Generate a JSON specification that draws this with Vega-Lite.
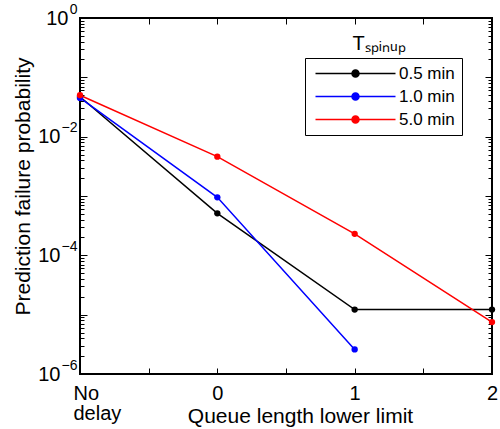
{
  "$schema": "https://vega.github.io/schema/vega-lite/v6.json",
  "autosize": {"type": "none"},
  "width": 412,
  "height": 356,
  "padding": {"left": 80, "top": 18, "right": 8, "bottom": 55},
  "background": "white",
  "title": {"text": "Tₛₚᵢₙᵤₚ", "orient": "top", "anchor": "end", "offset": -36, "dx": -92, "dy": 16, "fontSize": 20, "fontWeight": "normal", "font": "Liberation Sans", "color": "black"},
  "config": {
    "font": "Liberation Sans",
    "view": {"stroke": "black", "strokeWidth": 2},
    "axis": {"grid": false, "labelColor": "black", "titleColor": "black", "labelFontSize": 20, "titleFontSize": 21, "titleFontWeight": "normal", "labelFont": "Liberation Sans", "titleFont": "Liberation Sans"}
  },
  "data": {
    "values": [
      {"series": "0.5 min", "x": -1, "p": 0.047},
      {"series": "0.5 min", "x": 0, "p": 0.00051},
      {"series": "0.5 min", "x": 1, "p": 0.0000122},
      {"series": "0.5 min", "x": 2, "p": 0.0000122},
      {"series": "1.0 min", "x": -1, "p": 0.045},
      {"series": "1.0 min", "x": 0, "p": 0.00095},
      {"series": "1.0 min", "x": 1, "p": 0.0000026},
      {"series": "5.0 min", "x": -1, "p": 0.05},
      {"series": "5.0 min", "x": 0, "p": 0.0046},
      {"series": "5.0 min", "x": 1, "p": 0.00023},
      {"series": "5.0 min", "x": 2, "p": 0.0000075}
    ]
  },
  "layer": [
    {
      "mark": {"type": "line", "strokeWidth": 1.5, "point": {"filled": true, "size": 40}},
      "encoding": {
        "x": {
          "field": "x", "type": "quantitative",
          "scale": {"domain": [-1, 2], "nice": false, "zero": false},
          "axis": {
            "orient": "bottom",
            "title": "Queue length lower limit",
            "values": [-1, -0.5, 0, 0.5, 1, 1.5, 2],
            "ticks": true,
            "domain": false,
            "tickColor": "black",
            "tickWidth": 1,
            "tickSize": 6,
            "offset": -6,
            "labelPadding": 9,
            "labelExpr": "datum.value == -1 ? ['No', 'delay'] : (datum.value == round(datum.value) ? format(datum.value, 'd') : '')",
            "labelAlign": {"condition": {"test": "datum.value == -1", "value": "left"}, "value": "center"},
            "labelOffset": {"condition": {"test": "datum.value == -1", "value": -7}, "value": 0},
            "labelLineHeight": 20,
            "labelFlush": false,
            "labelOverlap": false,
            "titleX": 220,
            "titleY": 37,
            "titleBaseline": "top"
          }
        },
        "y": {
          "field": "p", "type": "quantitative",
          "scale": {"type": "log", "domain": [1e-6, 1], "nice": false},
          "axis": {
            "orient": "left",
            "title": "Prediction failure probability",
            "values": [1e-6, 1e-5, 1e-4, 1e-3, 1e-2, 1e-1, 1],
            "ticks": true,
            "domain": false,
            "tickColor": "black",
            "tickSize": 7,
            "offset": -7,
            "labelPadding": {"condition": {"test": "datum.value == 1", "value": 12}, "value": 20},
            "labelExpr": "datum.value == 1 || datum.value == 1e-2 || datum.value == 1e-4 || datum.value == 1e-6 ? '10' : ''",
            "labelOverlap": false,
            "labelFlush": false,
            "titleX": -54,
            "titleY": 168,
            "titleBaseline": "bottom"
          }
        },
        "color": {
          "field": "series", "type": "nominal",
          "scale": {"domain": ["0.5 min", "1.0 min", "5.0 min"], "range": ["#000000", "#0000ff", "#ff0000"]},
          "legend": {
            "title": null,
            "orient": "none",
            "legendX": 225,
            "legendY": 40,
            "strokeColor": "black",
            "fillColor": "white",
            "padding": 7,
            "labelFontSize": 17,
            "labelColor": "black",
            "symbolType": "M-8,0H8M-0.7,0A0.7,0.7,0,1,0,0.7,0A0.7,0.7,0,1,0,-0.7,0Z",
            "symbolSize": 100,
            "symbolStrokeWidth": 1.5,
            "symbolOffset": 35,
            "labelOffset": 35,
            "rowPadding": 5,
            "encode": {"symbols": {"update": {"fill": {"scale": "color", "field": "value"}, "fillOpacity": {"value": 1}}}}
          }
        }
      }
    },
    {
      "mark": {"type": "point", "opacity": 0},
      "encoding": {
        "x": {
          "field": "x", "type": "quantitative",
          "axis": {"orient": "top", "title": null, "labels": false, "domain": false, "ticks": true, "tickColor": "black", "values": [-1, -0.5, 0, 0.5, 1, 1.5, 2], "tickSize": 6, "offset": -6}
        },
        "y": {
          "field": "p", "type": "quantitative",
          "axis": {"orient": "right", "title": null, "labels": false, "domain": false, "ticks": true, "tickColor": "black", "values": [1e-6, 1e-5, 1e-4, 1e-3, 1e-2, 1e-1, 1], "tickSize": 7, "offset": -7}
        }
      }
    },
    {
      "mark": {"type": "point", "opacity": 0},
      "encoding": {
        "x": {"field": "x", "type": "quantitative", "axis": null},
        "y": {
          "field": "p", "type": "quantitative",
          "axis": {
            "orient": "left", "title": null, "labels": false, "domain": false, "ticks": true, "tickColor": "black", "tickSize": 4, "offset": -4,
            "values": [2e-6,3e-6,4e-6,5e-6,6e-6,7e-6,8e-6,9e-6,2e-5,3e-5,4e-5,5e-5,6e-5,7e-5,8e-5,9e-5,2e-4,3e-4,4e-4,5e-4,6e-4,7e-4,8e-4,9e-4,2e-3,3e-3,4e-3,5e-3,6e-3,7e-3,8e-3,9e-3,2e-2,3e-2,4e-2,5e-2,6e-2,7e-2,8e-2,9e-2,2e-1,3e-1,4e-1,5e-1,6e-1,7e-1,8e-1,9e-1]
          }
        }
      }
    },
    {
      "mark": {"type": "point", "opacity": 0},
      "encoding": {
        "x": {"field": "x", "type": "quantitative", "axis": null},
        "y": {
          "field": "p", "type": "quantitative",
          "axis": {
            "orient": "right", "title": null, "labels": false, "domain": false, "ticks": true, "tickColor": "black", "tickSize": 4, "offset": -4,
            "values": [2e-6,3e-6,4e-6,5e-6,6e-6,7e-6,8e-6,9e-6,2e-5,3e-5,4e-5,5e-5,6e-5,7e-5,8e-5,9e-5,2e-4,3e-4,4e-4,5e-4,6e-4,7e-4,8e-4,9e-4,2e-3,3e-3,4e-3,5e-3,6e-3,7e-3,8e-3,9e-3,2e-2,3e-2,4e-2,5e-2,6e-2,7e-2,8e-2,9e-2,2e-1,3e-1,4e-1,5e-1,6e-1,7e-1,8e-1,9e-1]
          }
        }
      }
    },
    {
      "mark": {"type": "point", "opacity": 0},
      "encoding": {
        "x": {"field": "x", "type": "quantitative", "axis": null},
        "y": {
          "field": "p", "type": "quantitative",
          "axis": {
            "orient": "left", "title": null, "ticks": false, "domain": false, "labelPadding": 3, "labelAlign": "right",
            "labelFontSize": 14, "labelOffset": -9,
            "values": [1e-6, 1e-4, 1e-2, 1],
            "labelExpr": "datum.value == 1 ? '0' : datum.value == 1e-2 ? '−2' : datum.value == 1e-4 ? '−4' : '−6'",
            "labelOverlap": false, "labelFlush": false
          }
        }
      }
    }
  ],
  "resolve": {"axis": {"x": "independent", "y": "independent"}}
}
